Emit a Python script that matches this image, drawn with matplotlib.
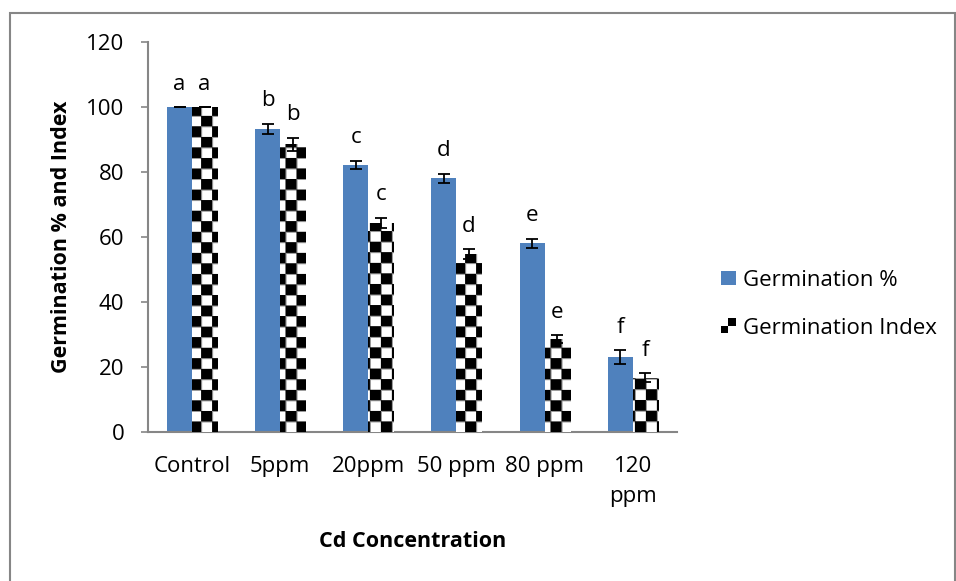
import numpy as np
import matplotlib
matplotlib.use("Agg")
import matplotlib.pyplot as plt
from matplotlib.patches import Rectangle, Patch
from matplotlib.legend_handler import HandlerBase

plt.rcParams['font.family'] = ['Open Sans', 'DejaVu Sans']

# data
categories = ["Control", "5ppm", "20ppm", "50 ppm", "80 ppm", "120\nppm"]
germ_pct = [100, 93.2, 82.2, 78.0, 58.0, 23.0]
germ_pct_err = [0.0, 1.6, 1.2, 1.5, 1.5, 2.1]
germ_idx = [100, 88.6, 64.4, 54.7, 28.6, 16.7]
germ_idx_err = [0.0, 2.0, 1.5, 1.5, 1.2, 1.3]
pct_letters = ["a", "b", "c", "d", "e", "f"]
idx_letters = ["a", "b", "c", "d", "e", "f"]

blue = "#4f81bd"
axis_grey = "#868686"
fs = 16

fig = plt.figure(figsize=(9.56, 5.81), dpi=100)
ax = fig.add_axes([0.1548, 0.2565, 0.5532, 0.6712])

# chart frame (left, top, right edges)
fig.patches.append(Rectangle((10 / 956, -0.1), 945 / 956, 1.1 - 13 / 581,
                             transform=fig.transFigure, fill=False,
                             edgecolor=axis_grey, linewidth=1.5))

x = np.arange(len(categories))
w = 0.284

b1 = ax.bar(x - w / 2, germ_pct, w, color=blue, zorder=2)
b2 = ax.bar(x + w / 2, germ_idx, w, color="white", zorder=2)

# checkerboard fill for the index bars, each cell with a thin grey rim
ncols, nrows, sub = 50, 37, 10
cells = (np.add.outer(np.arange(nrows), np.arange(ncols)) % 2).astype(float)
checker = np.kron(cells, np.ones((sub, sub)))
checker[::sub, :] = np.minimum(checker[::sub, :], 0.6)
checker[:, ::sub] = np.minimum(checker[:, ::sub], 0.6)
for bar in b2:
    im = ax.imshow(checker, cmap="gray", vmin=0, vmax=1,
                   extent=(-0.5, 5.5, 0, 120), aspect="auto",
                   interpolation="antialiased", zorder=3)
    im.set_clip_path(bar)

ax.errorbar(x - w / 2, germ_pct, yerr=germ_pct_err, fmt="none", ecolor="black",
            elinewidth=1.3, capsize=4.5, capthick=1.3, zorder=4)
ax.errorbar(x + w / 2, germ_idx, yerr=germ_idx_err, fmt="none", ecolor="black",
            elinewidth=1.3, capsize=4.5, capthick=1.3, zorder=4)

for xi, v, e, lab in zip(x - w / 2, germ_pct, germ_pct_err, pct_letters):
    ax.annotate(lab, (xi, v + e), xytext=(0, 9), textcoords="offset points",
                ha="center", va="bottom", fontsize=fs)
for xi, v, e, lab in zip(x + w / 2, germ_idx, germ_idx_err, idx_letters):
    ax.annotate(lab, (xi, v + e), xytext=(0, 9), textcoords="offset points",
                ha="center", va="bottom", fontsize=fs)

ax.set_xlim(-0.5, 5.5)
ax.set_ylim(0, 120)
ax.set_yticks(np.arange(0, 121, 20))
ax.set_xticks(x)
ax.set_xticklabels(categories, fontsize=fs, va="top", linespacing=1.6)
ax.tick_params(axis="x", length=0, pad=17)
ax.tick_params(axis="y", length=5, color=axis_grey, width=1.2, labelsize=fs, pad=12)
for s in ["top", "right"]:
    ax.spines[s].set_visible(False)
for s in ["left", "bottom"]:
    ax.spines[s].set_color(axis_grey)
    ax.spines[s].set_linewidth(1.5)

ax.set_ylabel("Germination % and Index", fontsize=fs - 0.5, fontweight="bold", labelpad=10)
ax.set_xlabel("Cd Concentration", fontsize=fs - 0.5, fontweight="bold", labelpad=17)


class CheckerHandler(HandlerBase):
    def create_artists(self, legend, orig_handle, xdescent, ydescent,
                       width, height, fontsize, trans):
        s = height
        x0 = -xdescent + width - s
        y0 = -ydescent
        h = s / 2
        arts = []
        for i in range(2):
            for j in range(2):
                c = "black" if (i + j) % 2 == 0 else "white"
                arts.append(Rectangle((x0 + j * h, y0 + i * h), h, h,
                                      facecolor=c, edgecolor="none",
                                      transform=trans))
        return arts


class SquareHandler(HandlerBase):
    def create_artists(self, legend, orig_handle, xdescent, ydescent,
                       width, height, fontsize, trans):
        s = height
        return [Rectangle((-xdescent + width - s, -ydescent), s, s,
                          facecolor=blue, edgecolor="none", transform=trans)]


h1 = Patch(facecolor=blue)
h2 = Patch(facecolor="white")
fig.legend([h1, h2], ["Germination %", "Germination Index"],
           handler_map={h1: SquareHandler(), h2: CheckerHandler()},
           loc="upper left", bbox_to_anchor=(707 / 956, 1 - 261 / 581),
           frameon=False, fontsize=fs, handlelength=0.9, handleheight=0.65,
           handletextpad=0.3, labelspacing=1.2, borderaxespad=0)

fig.savefig("out.png", dpi=100)
